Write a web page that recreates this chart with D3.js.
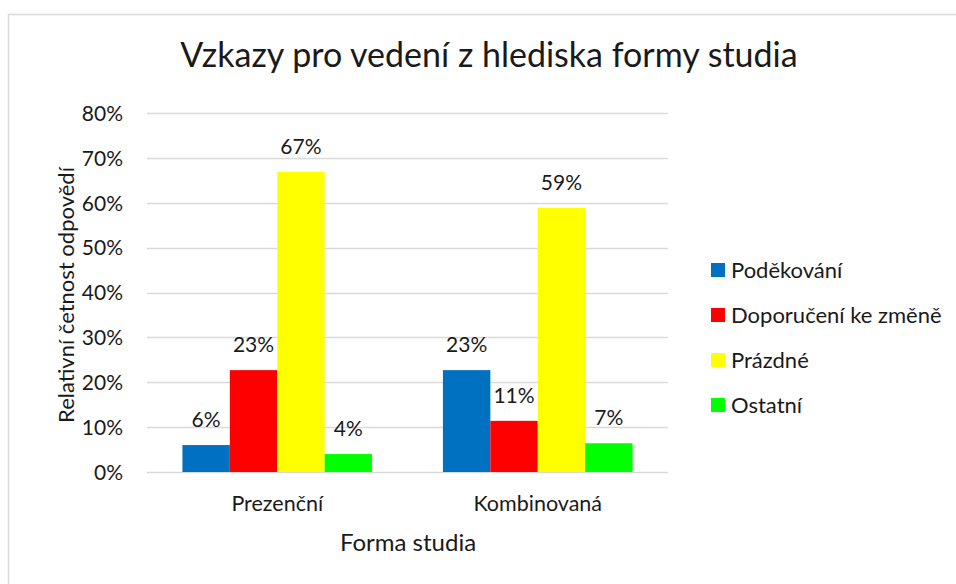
<!DOCTYPE html>
<html>
<head>
<meta charset="utf-8">
<script src="https://cdn.jsdelivr.net/npm/d3@7"></script>
<style>
  html, body { margin: 0; padding: 0; background: #fff; }
  svg { display: block; }
  text { font-family: Lato, "Open Sans", sans-serif; fill: #1a1a1a; }
</style>
</head>
<body>
<script>
// ---- data ----
const categories = ["Prezenční", "Kombinovaná"];
const seriesNames = ["Poděkování", "Doporučení ke změně", "Prázdné", "Ostatní"];
const seriesColors = ["#0070c0", "#ff0000", "#ffff00", "#00ff00"];
const poděkování = [0.06, 0.227];
const doporučení = [0.227, 0.114];
const prázdné = [0.669, 0.589];
const ostatní = [0.04, 0.064];
const valueLabels = [["6%", "23%"], ["23%", "11%"], ["67%", "59%"], ["4%", "7%"]];
const yTicks = [0, 0.1, 0.2, 0.3, 0.4, 0.5, 0.6, 0.7, 0.8];
const title = "Vzkazy pro vedení z hlediska formy studia";
const xTitle = "Forma studia";
const yTitle = "Relativní četnost odpovědí";

const seriesValues = [poděkování, doporučení, prázdné, ostatní];

const W = 956, H = 584;
const svg = d3.select("body").append("svg").attr("width", W).attr("height", H);
svg.append("rect").attr("width", W).attr("height", H).attr("fill", "#fff");
// chart border
svg.append("rect").attr("x", 8.5).attr("y", 14.5).attr("width", 980).attr("height", 620)
  .attr("fill", "none").attr("stroke", "#d9d9d9").attr("stroke-width", 1.5);

const plotL = 147, plotR = 668, plotT = 113, plotB = 472;
const y = d3.scaleLinear().domain([0, 0.8]).range([plotB, plotT]);
const x0 = d3.scaleBand().domain(categories).range([plotL, plotR]).paddingInner(0.272).paddingOuter(0.136);
const x1 = d3.scaleBand().domain(seriesNames).range([0, x0.bandwidth()]).padding(0);

// gridlines
svg.append("g").selectAll("line").data(yTicks).join("line")
  .attr("x1", plotL).attr("x2", plotR)
  .attr("y1", d => Math.round(y(d)) + 0.5).attr("y2", d => Math.round(y(d)) + 0.5)
  .attr("stroke", "#d9d9d9").attr("stroke-width", 1.5);

// y axis tick labels
const yAxis = d3.axisLeft(y).tickValues(yTicks).tickFormat(d3.format(".0%")).tickSize(0).tickPadding(0);
const gy = svg.append("g").attr("transform", `translate(123,0)`).call(yAxis);
gy.select(".domain").remove();
gy.selectAll("text").attr("font-size", 21).attr("font-family", "Lato, sans-serif").attr("fill", "#1a1a1a").attr("dy", "0.35em");

// bars
const groups = svg.append("g").selectAll("g").data(categories).join("g")
  .attr("transform", d => `translate(${x0(d)},0)`);
const cellData = (c, ci) => seriesNames.map((s, si) => ({s, si, v: seriesValues[si][ci], label: valueLabels[si][ci]}));
groups.selectAll("rect").data(cellData)
  .join("rect")
  .attr("x", d => x1(d.s)).attr("width", x1.bandwidth())
  .attr("y", d => y(d.v)).attr("height", d => plotB - y(d.v))
  .attr("fill", d => seriesColors[d.si]);
groups.selectAll("text").data(cellData)
  .join("text")
  .attr("x", d => x1(d.s) + x1.bandwidth() / 2).attr("y", d => y(d.v) - 18)
  .attr("text-anchor", "middle").attr("font-size", 21)
  .text(d => d.label);

// x axis category labels
const xAxis = d3.axisBottom(x0).tickSize(0).tickPadding(0);
const gx = svg.append("g").attr("transform", `translate(0,${plotB})`).call(xAxis);
gx.select(".domain").remove();
gx.selectAll("text").attr("font-size", 21.5).attr("font-family", "Lato, sans-serif").attr("fill", "#1a1a1a")
  .attr("dy", null).attr("y", 39);

// title
svg.append("text").attr("x", 489).attr("y", 67).attr("text-anchor", "middle")
  .attr("font-size", 34).text(title);
// axis titles
svg.append("text").attr("x", 408).attr("y", 551).attr("text-anchor", "middle")
  .attr("font-size", 24).text(xTitle);
svg.append("text").attr("transform", "translate(74,295) rotate(-90)").attr("text-anchor", "middle")
  .attr("font-size", 22).text(yTitle);

// legend
const legend = svg.append("g").selectAll("g").data(seriesNames).join("g")
  .attr("transform", (d, i) => `translate(711,${270 + i * 45})`);
legend.append("rect").attr("x", 0).attr("y", -7).attr("width", 14).attr("height", 14)
  .attr("fill", (d, i) => seriesColors[i]);
legend.append("text").attr("x", 20).attr("y", 0).attr("dy", "0.35em").attr("font-size", 22).text(d => d);
</script>
</body>
</html>
